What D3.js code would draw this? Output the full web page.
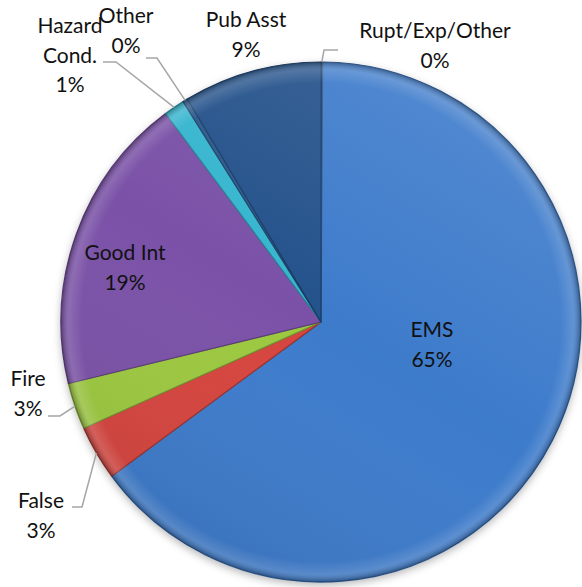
<!DOCTYPE html>
<html>
<head>
<meta charset="utf-8">
<script src="https://cdn.jsdelivr.net/npm/d3@7"></script>
<style>
  html, body { margin: 0; padding: 0; background: #fff; }
  svg { display: block; }
  text { font-family: Lato, "Open Sans", "Liberation Sans", sans-serif; font-size: 21px; fill: #111; }
</style>
</head>
<body>
<svg id="chart" width="582" height="587"></svg>
<script>
// ---- data (clockwise from 12 o'clock) ----
const categories = ["Rupt/Exp/Other", "EMS", "False", "Fire", "Good Int", "Hazard Cond.", "Other", "Pub Asst"];
const values     = [0.1, 64.8, 3.4, 2.9, 18.6, 1.3, 0.3, 8.6];
const labelLines = [["Rupt/Exp/Other"], ["EMS"], ["False"], ["Fire"], ["Good Int"], ["Hazard", "Cond."], ["Other"], ["Pub Asst"]];
const colors     = ["#1f4677", "#3d7bcb", "#d6443e", "#9cc83f", "#7a51a7", "#36b5cf", "#2a5a8e", "#24528b"];

// ---- layout (label placement, not data) ----
const cx = 321, cy = 322, R = 260;
// [text center x, first baseline y, leader elbow start x, elbow end x, elbow y] ; null leader for inside labels
const labelLayout = [
  {x: 435, y: 38,  leader: [338, 324, 50]},
  {x: 432, y: 337, leader: null},
  {x: 41,  y: 508, leader: [72, 82, 507]},
  {x: 28,  y: 386, leader: [48, 60, 416]},
  {x: 125, y: 260, leader: null},
  {x: 70,  y: 33,  leader: [103, 116, 62]},
  {x: 126, y: 23,  leader: [146, 157, 58]},
  {x: 246, y: 27,  leader: null}
];
const lineH = 29.5;

const svg = d3.select("#chart");
const defs = svg.append("defs");

const shadow = defs.append("filter").attr("id", "shadow").attr("x", "-10%").attr("y", "-10%").attr("width", "120%").attr("height", "120%");
shadow.append("feDropShadow").attr("dx", 0).attr("dy", 3).attr("stdDeviation", 4).attr("flood-color", "#000").attr("flood-opacity", 0.3);

const light = defs.append("linearGradient").attr("id", "light").attr("x1", "0.8").attr("y1", "0").attr("x2", "0.2").attr("y2", "1");
light.append("stop").attr("offset", "0").attr("stop-color", "#fff").attr("stop-opacity", 0.12);
light.append("stop").attr("offset", "0.5").attr("stop-color", "#fff").attr("stop-opacity", 0);
light.append("stop").attr("offset", "1").attr("stop-color", "#000").attr("stop-opacity", 0.1);

const rim = defs.append("radialGradient").attr("id", "rim").attr("gradientUnits", "userSpaceOnUse")
  .attr("cx", cx).attr("cy", cy).attr("r", R);
rim.append("stop").attr("offset", "0.92").attr("stop-color", "#fff").attr("stop-opacity", 0);
rim.append("stop").attr("offset", "0.97").attr("stop-color", "#fff").attr("stop-opacity", 0.14);
rim.append("stop").attr("offset", "1").attr("stop-color", "#000").attr("stop-opacity", 0.3);

const pie = d3.pie().sort(null).value(d => d.v).startAngle(0).endAngle(2 * Math.PI);
const data = categories.map((c, i) => ({c, v: values[i], i}));
const arcs = pie(data);
const arc = d3.arc().innerRadius(0).outerRadius(R);
const color = d3.scaleOrdinal().domain(categories).range(colors);

const g = svg.append("g").attr("transform", `translate(${cx},${cy})`);
g.append("circle").attr("r", R).attr("fill", "#fff").attr("filter", "url(#shadow)");

g.selectAll("path.slice").data(arcs).join("path")
  .attr("class", "slice")
  .attr("d", arc)
  .attr("fill", d => color(d.data.c))
  .attr("stroke", d => d3.color(color(d.data.c)).darker(0.9))
  .attr("stroke-width", 1.2)
  .attr("stroke-linejoin", "round");

// lighting overlays
g.append("circle").attr("r", R).attr("fill", "url(#light)");
svg.append("circle").attr("cx", cx).attr("cy", cy).attr("r", R).attr("fill", "url(#rim)");

// leader lines
const pct = v => Math.round(v / d3.sum(values) * 100) + "%";
arcs.forEach((a, i) => {
  const L = labelLayout[i];
  if (!L.leader) return;
  const mid = (a.startAngle + a.endAngle) / 2;
  const ex = cx + R * Math.sin(mid), ey = cy - R * Math.cos(mid);
  svg.append("polyline")
    .attr("points", `${L.leader[0]},${L.leader[2]} ${L.leader[1]},${L.leader[2]} ${ex},${ey}`)
    .attr("fill", "none").attr("stroke", "#a6a6a6").attr("stroke-width", 1.5);
});

// labels
arcs.forEach((a, i) => {
  const L = labelLayout[i];
  const lines = labelLines[i].concat([pct(a.data.v)]);
  const t = svg.append("text").attr("text-anchor", "middle");
  lines.forEach((s, k) => {
    t.append("tspan").attr("x", L.x).attr("y", L.y + k * lineH).text(s);
  });
});
</script>
</body>
</html>
